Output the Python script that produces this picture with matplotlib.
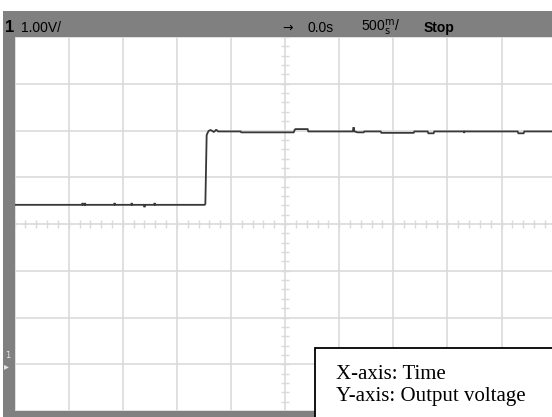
import matplotlib
matplotlib.use("Agg")
import matplotlib.pyplot as plt
from matplotlib.patches import Rectangle

# ---- data (time in s, voltage in V) ----
time_s = [-2.50, -1.875, -1.872, -1.868, -1.852, -1.849, -1.845, -1.579, -1.576, -1.572,
          -1.421, -1.418, -1.414, -1.305, -1.300, -1.292, -1.209, -1.206, -1.202,
          -0.744, -0.737, -0.725, -0.716, -0.707, -0.690, -0.680, -0.660, -0.652,
          -0.640, -0.633, -0.620, -0.615, -0.411, -0.405, 0.079, 0.090, 0.097, 0.208,
          0.215, 0.625, 0.633, 0.641, 0.670, 0.726, 0.733, 0.883, 0.890, 1.188, 1.195,
          1.317, 1.324, 1.372, 1.379, 1.650, 1.655, 1.660, 2.149, 2.156, 2.204, 2.211, 2.50]
voltage_v = [3.41, 3.41, 3.45, 3.41, 3.41, 3.45, 3.41, 3.41, 3.45, 3.41,
             3.41, 3.45, 3.41, 3.41, 3.36, 3.41, 3.41, 3.45, 3.41,
             3.41, 3.43, 4.90, 4.95, 4.99, 5.01, 5.00, 4.97, 4.98,
             5.01, 5.01, 4.98, 4.98, 4.98, 4.96, 4.96, 5.02, 5.03, 5.03,
             4.98, 4.98, 5.07, 4.98, 4.96, 4.96, 4.98, 4.98, 4.95, 4.95, 4.98,
             4.98, 4.94, 4.94, 4.98, 4.98, 4.95, 4.98, 4.98, 4.94, 4.94, 4.98, 4.98]

volts_per_div = "1.00V/"
time_offset = "0.0s"
time_per_div = "500"
run_state = "Stop"
x_label_note = "X-axis: Time"
y_label_note = "Y-axis: Output voltage"

W, H = 552, 417
fig = plt.figure(figsize=(W / 100, H / 100), dpi=100)
fig.patch.set_facecolor("white")

def fx(x):
    return x / W

def fy(y):
    return 1 - y / H

gray = "#808080"
# header band, left strip, bottom strip
fig.patches.append(Rectangle((fx(3), fy(37)), fx(W - 3), (26) / H, transform=fig.transFigure,
                             facecolor=gray, edgecolor="none", zorder=0))
fig.patches.append(Rectangle((fx(3), fy(417)), fx(11.6), (417 - 11) / H, transform=fig.transFigure,
                             facecolor=gray, edgecolor="none", zorder=0))
fig.patches.append(Rectangle((fx(3), 0), fx(W - 3), 6.2 / H, transform=fig.transFigure,
                             facecolor=gray, edgecolor="none", zorder=0))

ax = fig.add_axes([fx(14.6), 6.0 / H, 541 / W, 374 / H])
ax.set_xlim(-2.5, 2.5)
ax.set_ylim(-1, 7)
ax.axis("off")

grid_c = "#dadada"
for i in range(11):
    ax.axvline(-2.5 + 0.5 * i, color=grid_c, lw=1.2, zorder=1)
for i in range(9):
    ax.axhline(-1 + i, color=grid_c, lw=1.2, zorder=1)
# center axis tick marks
xt = [-2.5 + 0.1 * i for i in range(51)]
ax.plot(xt, [3] * len(xt), ls="none", marker="|", ms=6, mew=1.0, color=grid_c, zorder=1)
yt = [-1 + 0.2 * i for i in range(41)]
ax.plot([0] * len(yt), yt, ls="none", marker="_", ms=6, mew=1.0, color=grid_c, zorder=1)

ax.plot(time_s, voltage_v, color="#383838", lw=1.3, zorder=3, solid_joinstyle="miter")

hfont = dict(family=["Liberation Sans Narrow", "Liberation Sans", "DejaVu Sans"], color="black",
             va="center", ha="left")
ty = fy(28)
fig.text(fx(5), ty, "1", fontsize=12, fontweight="bold", **hfont)
fig.text(fx(21), ty, volts_per_div, fontsize=10, **hfont)
fig.text(fx(282), ty, "\u2192", fontsize=9, family="DejaVu Sans", va="center", ha="left")
fig.text(fx(307), ty, time_offset, fontsize=10, **hfont)
fig.text(fx(361), ty, time_per_div + r"$^{\mathrm{m}}_{\mathrm{s}}$/", fontsize=10, **hfont)
fig.text(fx(424), ty, run_state, fontsize=10, fontweight="bold", **hfont)

# ground marker
fig.text(fx(5.5), fy(355), "1", fontsize=6, color="#e8e8e8", va="center", ha="left")
fig.text(fx(4), fy(366), "\u25B8", fontsize=7, color="#e8e8e8", va="center", ha="left",
         family="DejaVu Sans")

# annotation box
fig.patches.append(Rectangle((fx(315), fy(425)), fx(260), (425 - 348) / H, transform=fig.transFigure,
                             facecolor="white", edgecolor="black", lw=1.3, zorder=5))
tfont = dict(family=["Liberation Serif", "DejaVu Serif"], fontsize=15, color="black",
             va="baseline", ha="left", zorder=6)
fig.text(fx(336), fy(379), x_label_note, **tfont)
fig.text(fx(336), fy(401), y_label_note, **tfont)

fig.savefig("out.png", dpi=100)
